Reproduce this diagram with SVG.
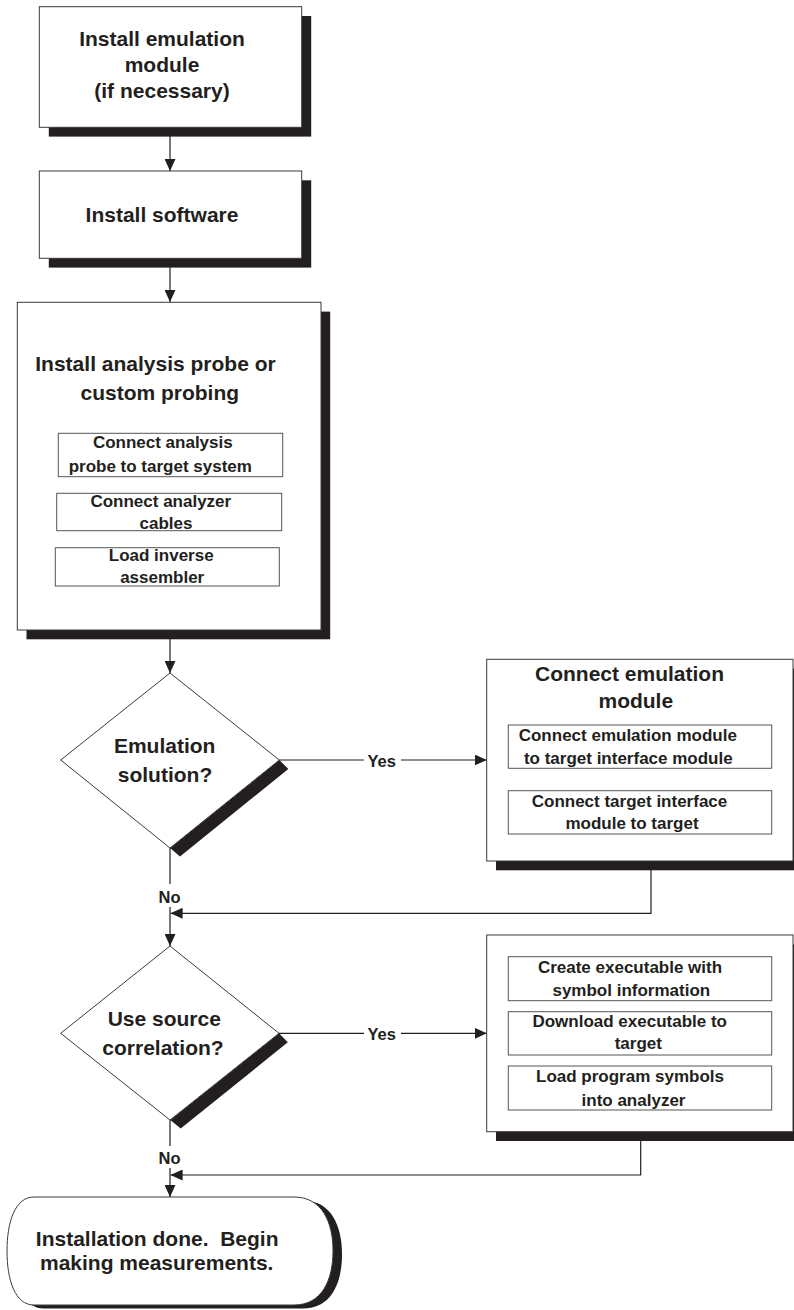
<svg xmlns="http://www.w3.org/2000/svg" width="794" height="1310" viewBox="0 0 794 1310">
<style>
.box{fill:#fff;stroke:#3a3a3a;stroke-width:1}
.inner{fill:#fff;stroke:#555;stroke-width:1}
.shadow{fill:#231f20;stroke:none}
.con{fill:none;stroke:#231f20;stroke-width:1.2}
text{font-family:"Liberation Sans",Arial,Helvetica,sans-serif;font-weight:bold;fill:#231f20;text-anchor:middle}
.h{font-size:21px}
.s{font-size:17px}
.l{font-size:16.5px}
</style>
<defs>
<marker id="arr" markerUnits="userSpaceOnUse" viewBox="0 0 12 11" refX="12" refY="5.5" markerWidth="12" markerHeight="11" orient="auto">
<path d="M0,0 L12,5.5 L0,11 Z" fill="#231f20"/>
</marker>
<path id="term" d="M34,1197 H294 C322,1197 333,1222 333,1251 C333,1280 322,1305 294,1305 H34 C15,1305 7,1280 7,1251 C7,1222 15,1197 34,1197 Z"/>
</defs>
<rect width="794" height="1310" fill="#fff"/>

<g id="connectors">
<line class="con" x1="170" y1="127.3" x2="170" y2="171" marker-end="url(#arr)"/>
<line class="con" x1="170" y1="258.3" x2="170" y2="302" marker-end="url(#arr)"/>
<line class="con" x1="170" y1="630" x2="170" y2="673" marker-end="url(#arr)"/>
<line class="con" x1="279.3" y1="760" x2="364" y2="760"/>
<line class="con" x1="401" y1="760" x2="486.7" y2="760" marker-end="url(#arr)"/>
<text class="l" x="381.7" y="766.7">Yes</text>
<line class="con" x1="170" y1="848" x2="170" y2="884"/>
<text class="l" x="169.5" y="902.7">No</text>
<line class="con" x1="170" y1="907" x2="170" y2="946" marker-end="url(#arr)"/>
<polyline class="con" points="651,866 651,913.3 170.6,913.3" marker-end="url(#arr)"/>
<line class="con" x1="279" y1="1033.3" x2="364" y2="1033.3"/>
<line class="con" x1="401" y1="1033.3" x2="486.7" y2="1033.3" marker-end="url(#arr)"/>
<text class="l" x="381.7" y="1040">Yes</text>
<line class="con" x1="170" y1="1120" x2="170" y2="1146"/>
<text class="l" x="169.5" y="1164">No</text>
<line class="con" x1="170" y1="1168" x2="170" y2="1197" marker-end="url(#arr)"/>
<polyline class="con" points="640.7,1136 640.7,1175 170.6,1175" marker-end="url(#arr)"/>
</g>

<g id="install-emulation-module">
<rect class="shadow" x="48.8" y="16" width="262.4" height="120.6"/>
<rect class="box" x="39.3" y="6.7" width="262.4" height="120.6"/>
<text class="h" x="162" y="46">Install emulation</text>
<text class="h" x="162" y="72">module</text>
<text class="h" x="162" y="98">(if necessary)</text>
</g>

<g id="install-software">
<rect class="shadow" x="48.8" y="180.3" width="262.4" height="87.3"/>
<rect class="box" x="39.3" y="171" width="262.4" height="87.3"/>
<text class="h" x="162" y="222">Install software</text>
</g>

<g id="install-analysis-probe">
<rect class="shadow" x="26.5" y="311.6" width="303.7" height="327.7"/>
<rect class="box" x="17.3" y="302.3" width="303.7" height="327.7"/>
<text class="h" x="155.5" y="370.7">Install analysis probe or</text>
<text class="h" x="159.8" y="399.5">custom probing</text>
<rect class="inner" x="58.3" y="433.3" width="224.4" height="43.4"/>
<text class="s" x="162.8" y="448.3">Connect analysis</text>
<text class="s" x="160.3" y="471.5">probe to target system</text>
<rect class="inner" x="56.7" y="493.3" width="225" height="37.4"/>
<text class="s" x="160.8" y="506.7">Connect analyzer</text>
<text class="s" x="166" y="529">cables</text>
<rect class="inner" x="55.3" y="547.7" width="224" height="38.3"/>
<text class="s" x="161.2" y="560.7">Load inverse</text>
<text class="s" x="162.2" y="583.3">assembler</text>
</g>

<g id="emulation-solution">
<polygon class="shadow" points="279.3,760 288.3,769 180,856.5 170,848"/>
<polygon class="box" points="170,673 279.3,760 170,848 60.7,760"/>
<text class="h" x="164.7" y="753.3">Emulation</text>
<text class="h" x="165" y="781.7">solution?</text>
</g>

<g id="connect-emulation-module">
<rect class="shadow" x="496" y="668.6" width="306.3" height="201.7"/>
<rect class="box" x="486.7" y="659.3" width="306.3" height="201.7"/>
<text class="h" x="629.5" y="681">Connect emulation</text>
<text class="h" x="635.8" y="708.3">module</text>
<rect class="inner" x="508.3" y="725" width="263.4" height="43.3"/>
<text class="s" x="627.8" y="740.7">Connect emulation module</text>
<text class="s" x="628.3" y="764">to target interface module</text>
<rect class="inner" x="508.3" y="790.7" width="263.4" height="43.3"/>
<text class="s" x="629.5" y="806.7">Connect target interface</text>
<text class="s" x="632" y="829.3">module to target</text>
</g>

<g id="use-source-correlation">
<polygon class="shadow" points="279,1033.3 287.8,1042.3 180.7,1128.5 170.3,1120"/>
<polygon class="box" points="170,946 279,1033.3 170,1120 60.7,1033.3"/>
<text class="h" x="164.3" y="1026">Use source</text>
<text class="h" x="163" y="1055">correlation?</text>
</g>

<g id="source-correlation-steps">
<rect class="shadow" x="496" y="944.3" width="306.3" height="196.7"/>
<rect class="box" x="486.7" y="935" width="306.3" height="196.7"/>
<rect class="inner" x="508.3" y="956.7" width="263.4" height="44"/>
<text class="s" x="630" y="973.3">Create executable with</text>
<text class="s" x="631.3" y="996">symbol information</text>
<rect class="inner" x="508.3" y="1011.7" width="263.4" height="43.3"/>
<text class="s" x="629.7" y="1027.3">Download executable to</text>
<text class="s" x="638.3" y="1049.3">target</text>
<rect class="inner" x="508.3" y="1066" width="263.4" height="44"/>
<text class="s" x="630" y="1081.7">Load program symbols</text>
<text class="s" x="633.5" y="1105.5">into analyzer</text>
</g>

<g id="installation-done">
<use href="#term" class="shadow" transform="translate(9,3.5)"/>
<use href="#term" class="box"/>
<text class="h" x="157.2" y="1246" xml:space="preserve">Installation done.  Begin</text>
<text class="h" x="156.7" y="1270">making measurements.</text>
</g>
</svg>
